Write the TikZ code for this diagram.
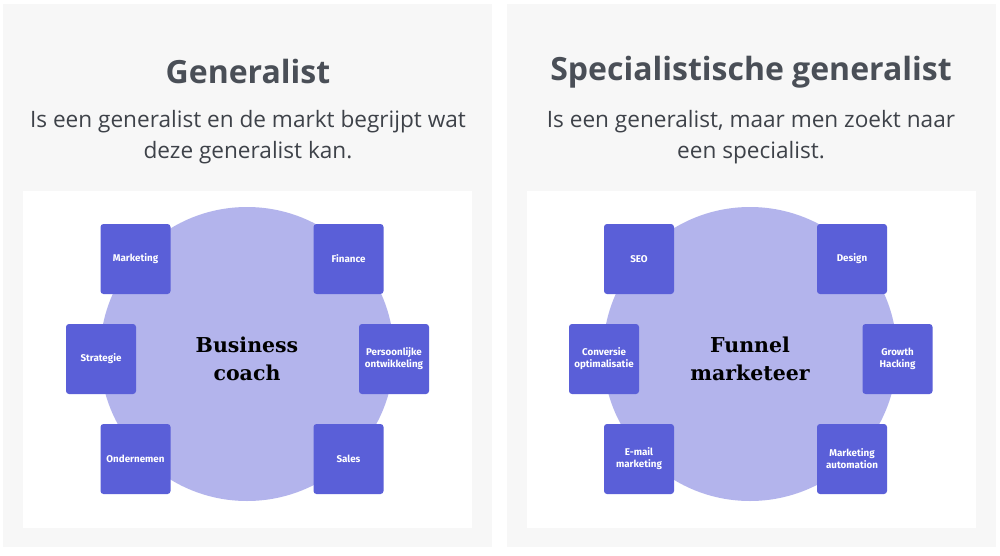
\documentclass[tikz,border=0pt]{standalone}
\usepackage{fontspec}
\setmainfont{Open Sans}
\newfontfamily\labelfont{Fira Sans}
\newfontfamily\slabfont{DejaVu Serif}
\definecolor{panelbg}{HTML}{F7F7F7}
\definecolor{circ}{HTML}{B3B4EC}
\definecolor{boxc}{HTML}{5A5FD8}
\definecolor{titlec}{HTML}{4A4F57}
\definecolor{subc}{HTML}{3E4249}
\tikzset{
  panel/.style={fill=panelbg, draw=none},
  inner/.style={fill=white, draw=none},
  bigcirc/.style={circle, fill=circ, draw=none, minimum size=294pt, inner sep=0pt},
  sq/.style={rectangle, rounded corners=3pt, fill=boxc, draw=none, minimum width=70pt, minimum height=70pt, inner sep=0pt, text=white, font=\labelfont\bfseries\fontsize{9.8}{12.2}\selectfont, align=center},
  ttl/.style={text=titlec, font=\bfseries\fontsize{32}{38}\selectfont, inner sep=0pt},
  sub/.style={text=subc, font=\fontsize{22.6}{31}\selectfont, align=center, inner sep=0pt},
  ctr/.style={text=black, font=\slabfont\bfseries\fontsize{20.5}{28}\selectfont, align=center, inner sep=0pt}
}
\begin{document}
\begin{tikzpicture}[x=1pt,y=-1pt]
\useasboundingbox (0,0) rectangle (1000,556);
\fill[white] (0,0) rectangle (1000,556);
% panels
\path[panel] (3,4) rectangle (492,547);
\path[panel] (507,4) rectangle (996,547);
\path[inner] (23,191) rectangle (472,528);
\path[inner] (527,191) rectangle (976,528);
% left
\node[ttl] (t1) at (248,72) {Generalist};
\node[sub] (s1) at (248,137) {Is een generalist en de markt begrijpt wat\\deze generalist kan.};
\node[bigcirc] (c1) at (247,354) {};
\node[ctr] (k1) at (247,359) {Business\\coach};
\node[sq] (a1) at (135.5,259) {Marketing};
\node[sq] (a2) at (348.5,259) {Finance};
\node[sq] (a3) at (101,359) {Strategie};
\node[sq] (a4) at (394,359) {Persoonlijke\\ontwikkeling};
\node[sq] (a5) at (135.5,459) {Ondernemen};
\node[sq] (a6) at (348.5,459) {Sales};
% right
\node[ttl] (t2) at (751,72) {Specialistische generalist};
\node[sub] (s2) at (751,137) {Is een generalist, maar men zoekt naar\\een specialist.};
\node[bigcirc] (c2) at (750,354) {};
\node[ctr] (k2) at (750,359) {Funnel\\marketeer};
\node[sq] (b1) at (639,259) {SEO};
\node[sq] (b2) at (852,259) {Design};
\node[sq] (b3) at (604,359) {Conversie\\optimalisatie};
\node[sq] (b4) at (897.5,359) {Growth\\Hacking};
\node[sq] (b5) at (639,459) {E-mail\\marketing};
\node[sq] (b6) at (852,459) {Marketing\\automation};
\end{tikzpicture}
\end{document}
